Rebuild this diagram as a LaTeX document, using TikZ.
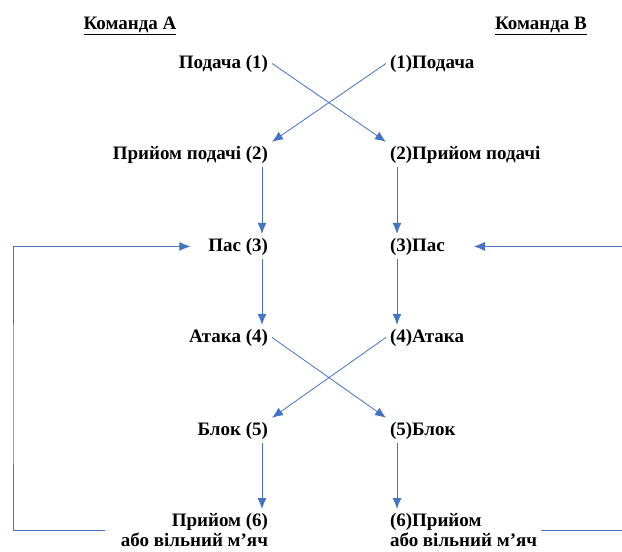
\documentclass[tikz,border=0pt]{standalone}
\usepackage{fontspec}
\setmainfont{Liberation Serif}
\usetikzlibrary{arrows.meta}
\definecolor{flowblue}{RGB}{68,114,196}
\tikzset{
    flow/.style={draw=flowblue, line width=0.8pt},
    flowarr/.style={flow, -{Latex[length=11pt,width=9pt]}},
    lbl/.style={font=\fontsize{19}{20}\selectfont\bfseries, inner sep=2pt, outer sep=2pt}
}
\begin{document}
\begin{tikzpicture}[x=1pt,y=-1pt] %Schema der Spielphasen
            \useasboundingbox (0,0) rectangle (622,552);

            \node[lbl, anchor=base] (tA) at (130,29) {\underline{Команда А}};
            \node[lbl, anchor=base] (tB) at (541,29) {\underline{Команда В}};

            \node[lbl, anchor=base east] (a1) at (272,68) {Подача (1)};
            \node[lbl, anchor=base east] (a2) at (272,159) {Прийом подачі (2)};
            \node[lbl, anchor=base east] (a3) at (272,251) {Пас (3)};
            \node[lbl, anchor=base east] (a4) at (272,342) {Атака (4)};
            \node[lbl, anchor=base east] (a5) at (272,435) {Блок (5)};
            \node[lbl, anchor=north east, align=right] (a6) at (272,509) {Прийом (6)\\або вільний м’яч};

            \node[lbl, anchor=base west] (b1) at (386,68) {(1)Подача};
            \node[lbl, anchor=base west] (b2) at (386,159) {(2)Прийом подачі};
            \node[lbl, anchor=base west] (b3) at (386,251) {(3)Пас};
            \node[lbl, anchor=base west] (b4) at (386,342) {(4)Атака};
            \node[lbl, anchor=base west] (b5) at (386,435) {(5)Блок};
            \node[lbl, anchor=north west, align=left] (b6) at (386,509) {(6)Прийом\\або вільний м’яч};

            \coordinate (loopA) at (13,400);
            \coordinate (edgeR) at (622,400);
            \coordinate (rowSix) at (0,530);
            \coordinate (endA) at ([xshift=-12pt]a6.west);
            \coordinate (endB) at ([xshift=0pt]b6.east);

            \draw[flowarr] (a1.east) -- (b2.north west);
            \draw[flowarr] (b1.west) -- (a2.north east);
            \draw[flowarr] (a4.east) -- (b5.north west);
            \draw[flowarr] (b4.west) -- (a5.north east);

            \draw[flowarr] ([xshift=-10pt]a2.south east) -- ([xshift=-10pt]a3.north east);
            \draw[flowarr] ([xshift=-10pt]a3.south east) -- ([xshift=-10pt]a4.north east);
            \draw[flowarr] ([xshift=-10pt]a5.south east) -- ([xshift=-10pt]a6.north east);

            \draw[flowarr] ([xshift=11pt]b2.south west) -- ([xshift=11pt]b3.north west);
            \draw[flowarr] ([xshift=11pt]b3.south west) -- ([xshift=11pt]b4.north west);
            \draw[flowarr] ([xshift=11pt]b5.south west) -- ([xshift=11pt]b6.north west);

            \draw[flowarr] (endA |- rowSix) -| (loopA) |- ([xshift=-14pt]a3.west);
            \draw[flow] (endB |- rowSix) -- (edgeR |- rowSix);
            \draw[flowarr] (edgeR |- b3.east) -- ([xshift=25pt]b3.east);
        \end{tikzpicture}
\end{document}
